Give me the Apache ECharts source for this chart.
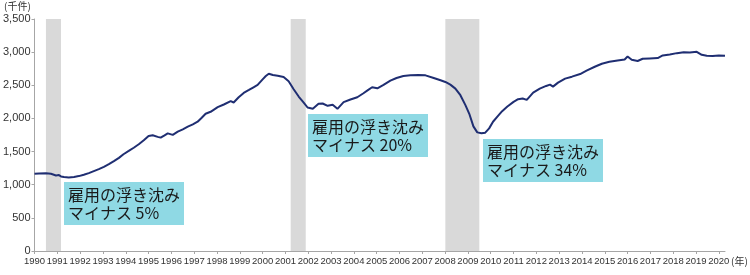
<!DOCTYPE html>
<html>
<head>
<meta charset="utf-8">
<script src="https://cdn.jsdelivr.net/npm/echarts@6/dist/echarts.min.js"></script>
<style>
html,body{margin:0;padding:0;background:#fff;}
#c{width:750px;height:275px;}
</style>
</head>
<body>
<div id="c"></div>
<script>
// Time (decimal year) and value (thousands)
const years = [1990.0,1990.2,1990.5,1990.72,1990.94,1991.07,1991.16,1991.29,1991.5,1991.73,1991.94,1992.16,1992.38,1992.6,1992.82,1993.04,1993.26,1993.48,1993.7,1993.9,1994.13,1994.35,1994.57,1994.79,1995.0,1995.18,1995.4,1995.53,1995.7,1995.84,1996.06,1996.28,1996.5,1996.72,1996.94,1997.15,1997.33,1997.5,1997.72,1998.03,1998.3,1998.6,1998.73,1998.95,1999.17,1999.4,1999.6,1999.78,2000.0,2000.14,2000.27,2000.45,2000.66,2000.92,2001.14,2001.36,2001.58,2001.8,2001.97,2002.2,2002.45,2002.63,2002.85,2003.07,2003.28,2003.55,2003.85,2004.15,2004.42,2004.63,2004.8,2005.03,2005.3,2005.6,2005.87,2006.17,2006.48,2006.83,2007.14,2007.5,2007.8,2008.01,2008.23,2008.45,2008.67,2008.89,2009.07,2009.24,2009.41,2009.59,2009.76,2009.93,2010.1,2010.3,2010.5,2010.73,2011.0,2011.2,2011.4,2011.58,2011.86,2012.15,2012.43,2012.6,2012.73,2012.95,2013.26,2013.56,2013.92,2014.2,2014.56,2014.87,2015.2,2015.56,2015.87,2016.0,2016.18,2016.44,2016.66,2016.97,2017.32,2017.54,2017.85,2018.16,2018.46,2018.73,2019.03,2019.25,2019.47,2019.73,2020.0,2020.27];
const values = [1165,1170,1172,1165,1140,1145,1125,1115,1110,1118,1130,1150,1175,1205,1235,1270,1310,1355,1405,1460,1510,1558,1610,1670,1735,1745,1722,1710,1745,1775,1752,1800,1835,1875,1910,1950,2010,2070,2100,2170,2210,2260,2240,2320,2385,2430,2470,2505,2590,2640,2675,2655,2645,2625,2560,2440,2330,2240,2165,2145,2220,2225,2190,2205,2145,2245,2285,2320,2380,2430,2470,2455,2505,2570,2610,2640,2650,2655,2650,2610,2575,2550,2510,2450,2350,2200,2060,1880,1790,1775,1785,1850,1950,2030,2110,2180,2250,2290,2300,2280,2390,2450,2490,2510,2480,2540,2600,2630,2670,2720,2780,2825,2855,2875,2890,2935,2885,2866,2900,2905,2910,2950,2965,2985,3000,2995,3005,2960,2945,2940,2948,2945];
// Recession periods (start, end)
const recessions = [[1990.5,1991.16],[2001.23,2001.89],[2008.01,2009.5]];
const yTicks = [0,500,1000,1500,2000,2500,3000,3500];
const yUnit = '(千件)';
const xUnit = '(年)';
const notes = [
  ['雇用の浮き沈み','マイナス 5%'],
  ['雇用の浮き沈み','マイナス 20%'],
  ['雇用の浮き沈み','マイナス 34%']
];

const chart = echarts.init(document.getElementById('c'));
const axisFont = "'Liberation Sans',sans-serif";
const jpFont = "'Noto Sans CJK JP','Noto Sans',sans-serif";
const fmt = v => String(v).replace(/\B(?=(\d{3})+(?!\d))/g, ',');

const boxPos = [[64,182],[308,114],[483,139]];
const graphics = notes.map((n,i)=>({
  type:'group', left:boxPos[i][0], top:boxPos[i][1],
  children:[
    {type:'rect', shape:{x:0,y:0,width:120,height:43}, style:{fill:'#8fd9e4'}},
    {type:'text', x:4, y:4, style:{text:n[0]+'\n'+n[1], font:"16px "+jpFont, lineHeight:18, fill:'#1a1a1a'}}
  ]
}));
graphics.push({type:'text', left:4, top:1, style:{text:yUnit, font:"10px "+jpFont, fill:'#333'}});
graphics.push({type:'text', left:731, top:256, style:{text:xUnit, font:"10px "+jpFont, fill:'#333'}});

chart.setOption({
  animation:false,
  grid:{left:33, right:25, top:19, bottom:24},
  xAxis:{
    type:'value', min:1990, max:years[years.length-1], interval:1,
    axisLine:{show:true, lineStyle:{color:'#a6a6a6'}},
    axisTick:{show:true, length:3, lineStyle:{color:'#a6a6a6'}},
    splitLine:{show:false},
    axisLabel:{color:'#333', fontSize:9.5, fontFamily:axisFont, margin:5,
      showMinLabel:true, showMaxLabel:false, hideOverlap:false,
      formatter:v=> (Number.isInteger(v) ? String(v) : '')}
  },
  yAxis:{
    type:'value', min:yTicks[0], max:yTicks[yTicks.length-1], interval:500,
    axisLine:{show:true, lineStyle:{color:'#a6a6a6'}},
    axisTick:{show:true, length:3, lineStyle:{color:'#a6a6a6'}},
    splitLine:{show:false},
    axisLabel:{color:'#333', fontSize:11, fontFamily:axisFont, margin:4, formatter:fmt}
  },
  series:[{
    type:'line',
    data: years.map((t,i)=>[t, values[i]]),
    showSymbol:false,
    lineStyle:{color:'#1f2e72', width:2},
    z:3,
    markArea:{
      silent:true,
      itemStyle:{color:'#d9d9d9'},
      data: recessions.map(r=>[{xAxis:r[0]},{xAxis:r[1]}])
    }
  }],
  graphic: graphics
});
</script>
</body>
</html>
